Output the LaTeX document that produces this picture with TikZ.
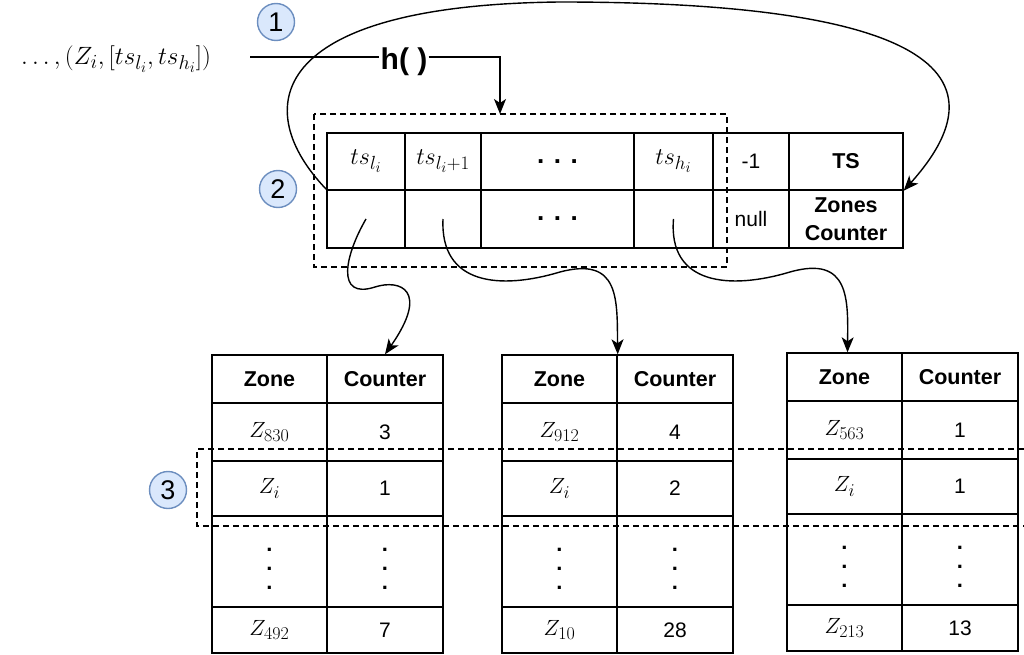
\documentclass[tikz,border=0pt]{standalone}
\usepackage{fix-cm}
\usepackage{fontspec}
\setsansfont{Liberation Sans}
\usetikzlibrary{arrows.meta}

% roomier sub- and superscripts for the large math labels
\DeclareMathSizes{22}{22}{18}{14}
\DeclareMathSizes{24}{24}{19}{15}
\DeclareMathSizes{25}{25}{20}{15}

\definecolor{badgefill}{HTML}{DAE8FC}
\definecolor{badgeline}{HTML}{6C8EBF}

\tikzset{
  every node/.style={inner sep=0pt},
  plain/.style={font=\sffamily\fontsize{21}{25}\selectfont},
  strong/.style={font=\sffamily\bfseries\fontsize{21.5}{27}\selectfont},
  mathtxt/.style={font=\fontsize{22}{26}\selectfont},
  slotmath/.style={font=\fontsize{24}{28}\selectfont},
  ellip/.style={font=\sffamily\bfseries\fontsize{26}{29}\selectfont},
  cellbox/.style={draw, line width=1.4pt, rectangle},
  dashbox/.style={line width=1.3pt, dash pattern=on 6pt off 4pt},
  link/.style={line width=1.4pt, -{Stealth[length=15pt,width=12pt,inset=4pt]}},
  badge/.style={circle, draw=badgeline, fill=badgefill, line width=1.4pt,
    minimum size=37pt, font=\sffamily\fontsize{27}{30}\selectfont},
  vdotsbox/.style={align=center, font=\sffamily\bfseries\fontsize{22}{19}\selectfont},
}

% \tcell[style]{x1}{y1}{x2}{y2}{name}{text}
\newcommand\tcell[7][]{%
  \node[cellbox,#1,minimum width={(#4)*1pt-(#2)*1pt},minimum height={(#5)*1pt-(#3)*1pt}]
    (#6) at ({((#2)+(#4))/2},{((#3)+(#5))/2}) {#7};}

% \ztable{prefix}{left x}{y offset}{zone A}{count A}{count i}{zone B}{count B}
\newcommand\ztable[8]{%
  \tcell[strong]{#2}{#3+355}{#2+115}{#3+403}{#1-zh}{Zone}
  \tcell[strong]{#2+115}{#3+355}{#2+231}{#3+403}{#1-ch}{Counter}
  \tcell[mathtxt]{#2}{#3+403}{#2+115}{#3+461}{#1-za}{$#4$}
  \tcell[plain]{#2+115}{#3+403}{#2+231}{#3+461}{#1-ca}{#5}
  \tcell[mathtxt]{#2}{#3+461}{#2+115}{#3+516}{#1-zi}{$Z_i$}
  \tcell[plain]{#2+115}{#3+461}{#2+231}{#3+516}{#1-ci}{#6}
  \tcell{#2}{#3+516}{#2+115}{#3+607}{#1-zd}{}
  \tcell{#2+115}{#3+516}{#2+231}{#3+607}{#1-cd}{}
  \tcell[mathtxt]{#2}{#3+607}{#2+115}{#3+653}{#1-zb}{$#7$}
  \tcell[plain]{#2+115}{#3+607}{#2+231}{#3+653}{#1-cb}{#8}
  \node[vdotsbox] (#1-vz) at ({#2+57.5},{#3+569}) {.\\.\\.};
  \node[vdotsbox] (#1-vc) at ({#2+173},{#3+569}) {.\\.\\.};
}

\begin{document}
\begin{tikzpicture}[x=1pt,y=-1pt]
  \useasboundingbox (0,0) rectangle (1024,655);

  % input stream and hash function
  \node[font=\fontsize{25}{29}\selectfont] (in) at (116,59) {$\ldots,(Z_i,[ts_{l_i},ts_{h_i}])$};
  \coordinate (src) at (250,57);
  \node[font=\sffamily\bfseries\fontsize{30}{34}\selectfont] (hf) at (404,62) {h( )};
  \coordinate (drop) at (500,114);
  \draw[line width=1.4pt] (src) -- ([xshift=-1pt]src -| hf.west);
  \draw[link] ([xshift=1pt]src -| hf.east) -| (drop);

  % time-slot array
  \tcell[slotmath]{327}{133}{405}{190}{ta}{$ts_{l_i}$}
  \tcell[slotmath]{405}{133}{481}{190}{tb}{$ts_{l_i+1}$}
  \tcell[ellip]{481}{133}{634}{190}{tc}{. . .}
  \tcell[slotmath]{634}{133}{713}{190}{td}{$ts_{h_i}$}
  \tcell[plain]{713}{133}{789}{190}{te}{-1}
  \tcell[strong]{789}{133}{903}{190}{tf}{TS}
  \tcell{327}{190}{405}{248}{ba}{}
  \tcell{405}{190}{481}{248}{bb}{}
  \tcell[ellip]{481}{190}{634}{248}{bc}{. . .}
  \tcell{634}{190}{713}{248}{bd}{}
  \tcell[plain]{713}{190}{789}{248}{be}{null}
  \tcell[strong,align=center,font=\sffamily\bfseries\fontsize{21.5}{28}\selectfont]{789}{190}{903}{248}{bf}{Zones\\Counter}

  % per-slot zone counters
  \ztable{A}{212}{0}{Z_{830}}{3}{1}{Z_{492}}{7}
  \ztable{B}{502}{0}{Z_{912}}{4}{2}{Z_{10}}{28}
  \ztable{C}{787}{-2}{Z_{563}}{1}{1}{Z_{213}}{13}

  % highlighted regions
  \draw[dashbox] (314,114) rectangle (727,267);
  \draw[dashbox] (1024,449) -| (197,526) -- (1024,526);

  % step markers
  \node[badge] (n1) at (276,22) {1};
  \node[badge] (n2) at (278,189) {2};
  \node[badge] (n3) at (168,490) {3};

  % slot pointers
  \draw[link] (ba.center) .. controls (345,255) and (335,300) .. (375,287)
                          .. controls (400,279) and (430,290) .. (A-ch.north);
  \draw[link] (bb.center) .. controls (440,285) and (500,290) .. (560,272)
                          .. controls (620,256) and (617,300) .. (B-zh.north east);
  \draw[link] (bd.center) .. controls (668,285) and (730,290) .. (790,272)
                          .. controls (850,255) and (848,300) .. ([xshift=3pt]C-zh.north);

  % wrap-around link to the counter slot
  \draw[link] (ba.north west) .. controls (250,110) and (265,5) .. (560,2)
                              .. controls (860,2) and (1030,50) .. (tf.south east);
\end{tikzpicture}
\end{document}
